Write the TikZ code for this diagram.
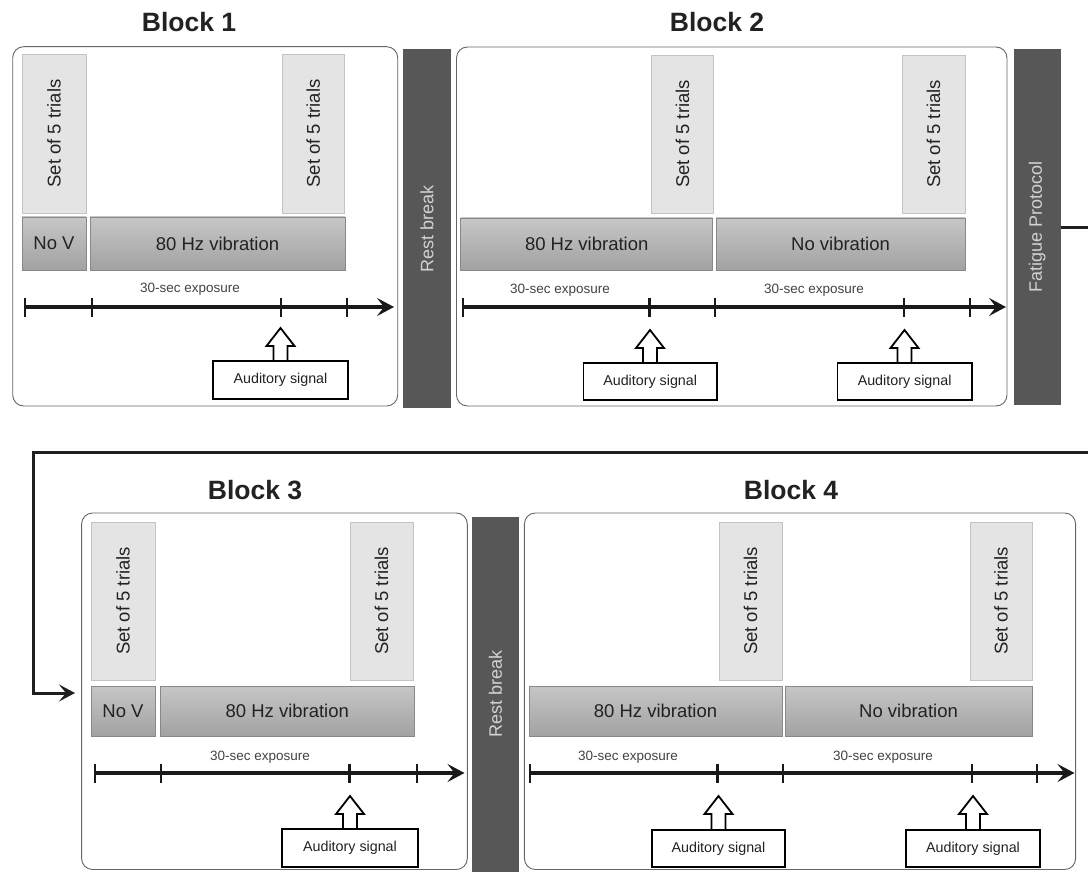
\documentclass[tikz,border=0pt]{standalone}
\usepackage{fontspec}
\setmainfont{Liberation Sans}
\usetikzlibrary{arrows.meta,calc}
\definecolor{setfill}{HTML}{E4E4E4}
\definecolor{setdraw}{HTML}{C4C4C4}
\definecolor{vibtop}{HTML}{C6C6C6}
\definecolor{vibbot}{HTML}{A2A2A2}
\definecolor{vibdraw}{HTML}{888888}
\definecolor{barfill}{HTML}{575757}
\definecolor{bartext}{HTML}{D2D2D2}
\definecolor{txt}{HTML}{222222}
\definecolor{framecol}{HTML}{666666}
\newcommand{\rnode}[7]{\node[#2, minimum width={(#5-#3)*1pt}, minimum height={(#6-#4)*1pt}] (#1) at ({(#3+#5)/2},{(#4+#6)/2}) {#7};}
\newcommand{\vnode}[7]{\node[#2, rotate=90, minimum height={(#5-#3)*1pt}, minimum width={(#6-#4)*1pt}] (#1) at ({(#3+#5)/2},{(#4+#6)/2}) {#7};}
\newcommand{\sigarrow}[4]{\draw[hollowarrow] (#2,#3) -- ({#2+14},{#3+18}) -- ({#2+7},{#3+18}) -- ({#2+7},#4) -- ({#2-7},#4) -- ({#2-7},{#3+18}) -- ({#2-14},{#3+18}) -- cycle;}
\newcommand{\tickmark}[2]{\draw[tickline] (#1,{#2-9.5}) -- (#1,{#2+9.5});}
\tikzset{
  blockframe/.style={draw=framecol, line width=0.9pt, rounded corners=11pt, inner sep=0pt},
  setbox/.style={fill=setfill, draw=setdraw, line width=0.6pt, inner sep=0pt, text=txt, font=\fontsize{18.5}{22}\selectfont},
  vibbox/.style={top color=vibtop, bottom color=vibbot, draw=vibdraw, line width=0.6pt, inner sep=0pt, text=txt, font=\fontsize{18.5}{22}\selectfont},
  barbox/.style={fill=barfill, draw=none, inner sep=0pt, text=bartext, font=\fontsize{18}{22}\selectfont},
  audbox/.style={draw=black, fill=white, line width=1.8pt, inner sep=0pt, text=txt, font=\fontsize{14.3}{17}\selectfont},
  hollowarrow/.style={draw=black, fill=white, line width=1.8pt, line join=miter},
  timeline/.style={draw=black!90, line width=3.5pt, -{Stealth[length=17pt,width=18pt,inset=7pt]}},
  tickline/.style={draw=black!90, line width=2.2pt},
  exptext/.style={inner sep=0pt, text=txt!85, font=\fontsize{13.5}{15}\selectfont},
  titletext/.style={inner sep=0pt, text=txt, font=\fontsize{26.5}{30}\selectfont\bfseries},
  flowline/.style={draw=black!88, line width=3pt, -{Stealth[length=16pt,width=17pt,inset=7pt]}}
}
\begin{document}
\begin{tikzpicture}[x=1pt,y=-1pt]
\useasboundingbox[fill=white] (0,0) rectangle (1088,872);

% ---------------- Block 1 ----------------
\node[titletext] (title1) at (189,22) {Block 1};
\rnode{frame1}{blockframe}{12.7}{46.7}{397.7}{406}{}
\vnode{s11}{setbox}{22}{54}{86}{213}{Set of 5 trials}
\vnode{s12}{setbox}{282}{54}{344.5}{213}{Set of 5 trials}
\rnode{nov1}{vibbox}{22}{217}{86}{270}{No V}
\rnode{vib1}{vibbox}{90}{217}{345}{270}{80 Hz vibration}
\node[exptext] (exp1) at (190,289) {30-sec exposure};
\coordinate (t1s) at (25,307);
\coordinate (t1e) at (394,307);
\draw[timeline] (t1s) -- (t1e);
\tickmark{25}{307}\tickmark{92}{307}\tickmark{281}{307}\tickmark{347}{307}
\rnode{aud1}{audbox}{213}{361}{348}{399}{Auditory signal}
\sigarrow{a1}{280.5}{328}{361}
\rnode{rest1}{barbox}{403}{49}{451}{408}{}
\node[barbox, rotate=90, fill=none] (rest1t) at (rest1.center) {Rest break};

% ---------------- Block 2 ----------------
\node[titletext] (title2) at (717,22) {Block 2};
\rnode{frame2}{blockframe}{456.5}{47}{1007}{406}{}
\vnode{s21}{setbox}{651.5}{55}{713.5}{213}{Set of 5 trials}
\vnode{s22}{setbox}{902}{55}{965}{213}{Set of 5 trials}
\rnode{vib2}{vibbox}{460.7}{218}{712.7}{270}{80 Hz vibration}
\rnode{nov2}{vibbox}{716}{218}{965}{270}{No vibration}
\node[exptext] (exp21) at (560,290) {30-sec exposure};
\node[exptext] (exp22) at (814,290) {30-sec exposure};
\coordinate (t2s) at (462.7,307);
\coordinate (t2e) at (1006,307);
\draw[timeline] (t2s) -- (t2e);
\tickmark{462.7}{307}\tickmark{649.5}{307}\tickmark{714.8}{307}\tickmark{904}{307}\tickmark{969.8}{307}
\rnode{aud21}{audbox}{583.4}{363}{717}{400}{Auditory signal}
\rnode{aud22}{audbox}{837.5}{363}{971.8}{400}{Auditory signal}
\sigarrow{a21}{650}{330}{363}
\sigarrow{a22}{904.5}{330}{363}
\rnode{fat}{barbox}{1013.6}{49}{1060.7}{405}{}
\node[barbox, rotate=90, fill=none] (fatt) at (fat.center) {Fatigue Protocol};

% ---------------- connector ----------------
\coordinate (c1) at (1110,228);
\coordinate (c2) at (1110,452);
\coordinate (c3) at (33,452);
\coordinate (c4) at (33,693);
\coordinate (c5) at (75,693);
\draw[flowline] (fat.east |- 0,228) -- (c1) -- (c2) -- (c3) -- (c4) -- (c5);

% ---------------- Block 3 ----------------
\node[titletext] (title3) at (255,490) {Block 3};
\rnode{frame3}{blockframe}{81.6}{513}{467.3}{869.5}{}
\vnode{s31}{setbox}{91}{522}{155}{680}{Set of 5 trials}
\vnode{s32}{setbox}{350}{522}{413}{680}{Set of 5 trials}
\rnode{nov3}{vibbox}{91}{686}{155}{736}{No V}
\rnode{vib3}{vibbox}{160.5}{686}{414}{736}{80 Hz vibration}
\node[exptext] (exp3) at (260,757) {30-sec exposure};
\coordinate (t3s) at (94.7,773);
\coordinate (t3e) at (464.5,773);
\draw[timeline] (t3s) -- (t3e);
\tickmark{94.7}{773}\tickmark{160.8}{773}\tickmark{349.5}{773}\tickmark{416.7}{773}
\rnode{aud3}{audbox}{282}{829}{418}{867}{Auditory signal}
\sigarrow{a3}{350}{796}{829}
\rnode{rest2}{barbox}{471.8}{517}{519}{874}{}
\node[barbox, rotate=90, fill=none] (rest2t) at ($(rest2.center)+(0,-1.5)$) {Rest break};

% ---------------- Block 4 ----------------
\node[titletext] (title4) at (791,490) {Block 4};
\rnode{frame4}{blockframe}{524.4}{513}{1075.6}{869.5}{}
\vnode{s41}{setbox}{719}{522}{782}{680}{Set of 5 trials}
\vnode{s42}{setbox}{970}{522}{1032}{680}{Set of 5 trials}
\rnode{vib4}{vibbox}{529}{686}{782}{736}{80 Hz vibration}
\rnode{nov4}{vibbox}{785}{686}{1032}{736}{No vibration}
\node[exptext] (exp41) at (628,757) {30-sec exposure};
\node[exptext] (exp42) at (883,757) {30-sec exposure};
\coordinate (t4s) at (530,773);
\coordinate (t4e) at (1074.5,773);
\draw[timeline] (t4s) -- (t4e);
\tickmark{530}{773}\tickmark{717.5}{773}\tickmark{783}{773}\tickmark{971.7}{773}\tickmark{1037}{773}
\rnode{aud41}{audbox}{652}{830}{785}{867}{Auditory signal}
\rnode{aud42}{audbox}{906}{830}{1040}{867}{Auditory signal}
\sigarrow{a41}{718.5}{796}{830}
\sigarrow{a42}{973}{796}{830}
\end{tikzpicture}
\end{document}
